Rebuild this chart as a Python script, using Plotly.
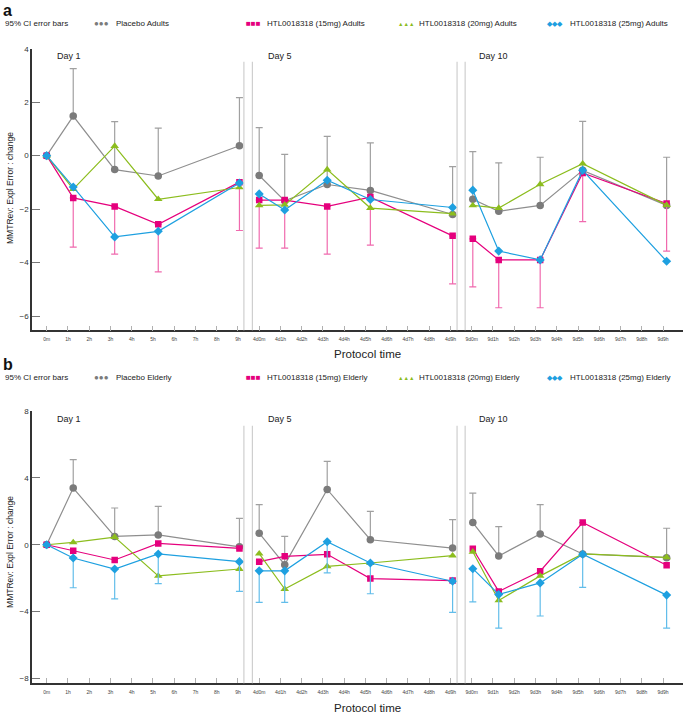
import plotly.graph_objects as go

# ---------------- data ----------------
tick_labels = (["0m"] + [f"{h}h" for h in range(1, 10)]
               + [f"4d{h}{'m' if h == 0 else 'h'}" for h in range(10)]
               + [f"9d{h}{'m' if h == 0 else 'h'}" for h in range(10)])

day_names = ["Day 1", "Day 5", "Day 10"]
# actual sampling times (hours after dosing) on each day
day1_hours = [0, 1.25, 3.2, 5.25, 9.07]
day5_hours = [0, 1.2, 3.2, 5.23, 9.1]
day10_hours = [0.05, 1.27, 3.22, 5.22, 9.17]

# Panel a: Adults
placebo_adults = [0, 1.48, -0.52, -0.76, 0.37, -0.74, -1.69, -1.08, -1.30, -2.20, -1.63, -2.08, -1.86, -0.55, -1.86]
placebo_adults_upper = [0, 3.26, 1.27, 1.03, 2.17, 1.05, 0.05, 0.72, 0.48, -0.41, 0.15, -0.27, -0.06, 1.28, -0.06]
mg15_adults = [0, -1.58, -1.90, -2.57, -0.99, -1.66, -1.66, -1.90, -1.55, -3.00, -3.11, -3.90, -3.90, -0.65, -1.79]
mg15_adults_lower = [0, -3.42, -3.68, -4.35, -2.80, -3.46, -3.46, -3.68, -3.35, -4.80, -4.91, -5.69, -5.69, -2.47, -3.57]
mg20_adults = [0, -1.25, 0.36, -1.63, -1.19, -1.86, -1.84, -0.52, -1.96, -2.17, -1.86, -1.96, -1.07, -0.30, -1.85]
mg25_adults = [0, -1.17, -3.04, -2.83, -1.02, -1.43, -2.03, -0.92, -1.64, -1.94, -1.29, -3.57, -3.90, -0.55, -3.95]

# Panel b: Elderly
placebo_elderly = [0, 3.39, 0.50, 0.59, -0.12, 0.69, -1.19, 3.31, 0.30, -0.20, 1.33, -0.67, 0.65, -0.55, -0.77]
placebo_elderly_upper = [0, 5.09, 2.20, 2.30, 1.58, 2.40, 0.50, 4.99, 2.00, 1.50, 3.09, 1.09, 2.40, 1.33, 0.99]
mg15_elderly = [0, -0.36, -0.91, 0.08, -0.22, -1.01, -0.69, -0.57, -2.02, -2.14, -0.24, -2.79, -1.58, 1.33, -1.23]
mg20_elderly = [0, 0.14, 0.46, -1.86, -1.45, -0.53, -2.65, -1.29, -1.09, -0.65, -0.42, -3.33, -1.86, -0.55, -0.75]
mg25_elderly = [0, -0.79, -1.45, -0.55, -1.01, -1.56, -1.56, 0.18, -1.09, -2.18, -1.43, -2.97, -2.28, -0.57, -3.01]
mg25_elderly_lower = [0, -2.57, -3.23, -2.32, -2.79, -3.45, -3.45, -1.68, -2.93, -4.04, -3.41, -4.99, -4.26, -2.55, -4.99]

# ---------------- styling ----------------
FONT = "Liberation Sans, Arial, sans-serif"
C_PLA, C_PLA_LINE, C_PLA_BAR = "#7b7b7b", "#8e8e8e", "#a0a0a0"
C_15, C_15_BAR = "#e5007d", "#f06aae"
C_20 = "#8cbd1e"
C_25, C_25_BAR = "#1ea0e0", "#62bdea"

W, H = 685, 720
def px_y(p):
    return 1 - p / H

day_offsets = [0, 10, 20]
hours_by_day = [day1_hours, day5_hours, day10_hours]

def with_breaks(vals):
    out = []
    for d in range(3):
        out += list(vals[d * 5:(d + 1) * 5])
        if d < 2:
            out.append(None)
    return out

x_all = []
for d in range(3):
    x_all += [day_offsets[d] + h for h in hours_by_day[d]]
    if d < 2:
        x_all.append(None)

fig = go.Figure()

def add_series(vals, color, line_color, symbol, size, xa, ya, up=None, low=None, bar_color=None):
    err = None
    if up is not None:
        err = dict(type="data", symmetric=False,
                   array=with_breaks([u - v for u, v in zip(up, vals)]),
                   arrayminus=with_breaks([0] * len(vals)),
                   color=bar_color, thickness=1.2, width=3.5)
    if low is not None:
        err = dict(type="data", symmetric=False,
                   array=with_breaks([0] * len(vals)),
                   arrayminus=with_breaks([v - l for l, v in zip(low, vals)]),
                   color=bar_color, thickness=1.2, width=3.5)
    fig.add_trace(go.Scatter(
        x=x_all, y=with_breaks(vals), mode="lines+markers",
        line=dict(color=line_color, width=1.2),
        marker=dict(symbol=symbol, size=size, color=color, line=dict(width=0)),
        error_y=err, xaxis=xa, yaxis=ya, showlegend=False, connectgaps=False,
        hoverinfo="x+y"))

# Panel a
add_series(placebo_adults, C_PLA, C_PLA_LINE, "circle", 7.5, "x", "y", up=placebo_adults_upper, bar_color=C_PLA_BAR)
add_series(mg15_adults, C_15, C_15, "square", 6.5, "x", "y", low=mg15_adults_lower, bar_color=C_15_BAR)
add_series(mg20_adults, C_20, C_20, "triangle-up", 7.5, "x", "y")
add_series(mg25_adults, C_25, C_25, "diamond", 7, "x", "y")
# Panel b
add_series(placebo_elderly, C_PLA, C_PLA_LINE, "circle", 7.5, "x2", "y2", up=placebo_elderly_upper, bar_color=C_PLA_BAR)
add_series(mg15_elderly, C_15, C_15, "square", 6.5, "x2", "y2")
add_series(mg20_elderly, C_20, C_20, "triangle-up", 7.5, "x2", "y2")
add_series(mg25_elderly, C_25, C_25, "diamond", 7, "x2", "y2", low=mg25_elderly_lower, bar_color=C_25_BAR)

x_dom = [32 / W, 683 / W]
x_common = dict(range=[-0.69, 29.94], tickmode="array", tickvals=list(range(30)), ticktext=tick_labels,
                showline=True, linecolor="#333333", linewidth=1.5, ticks="inside", ticklen=5,
                tickcolor="#b0b0b0", tickwidth=1, tickfont=dict(size=5, color="#444", family=FONT),
                showgrid=False, zeroline=False, domain=x_dom, ticklabelstandoff=3)
y_common = dict(showline=True, linecolor="#333333", linewidth=1.5, ticks="inside", ticklen=8,
                tickcolor="#777777", tickwidth=1, tickfont=dict(size=8, color="#333", family=FONT),
                showgrid=False, zeroline=False)

fig.update_layout(
    width=W, height=H, margin=dict(l=0, r=0, t=0, b=0),
    paper_bgcolor="white", plot_bgcolor="white",
    font=dict(family=FONT),
    xaxis=dict(**x_common, anchor="y"),
    yaxis=dict(**y_common, range=[-6.54, 4], tickvals=[4, 2, 0, -2, -4, -6],
               domain=[px_y(328.3), px_y(45)], anchor="x"),
    xaxis2=dict(**x_common, anchor="y2"),
    yaxis2=dict(**y_common, range=[-8.28, 8], tickvals=[8, 4, 0, -4, -8],
                domain=[px_y(683), px_y(409.3)], anchor="x2"),
)

# facet separators
shapes = []
for xr, top, bot in [("x", 58, 328), ("x2", 424, 683)]:
    for xv in [9.28, 9.68, 19.31, 19.69]:
        shapes.append(dict(type="line", xref=xr, yref="paper", x0=xv, x1=xv,
                           y0=px_y(bot), y1=px_y(top), line=dict(color="#cfcfcf", width=1.2)))
fig.update_layout(shapes=shapes)

ann = []
def text(x, y, s, size, color="#222", bold=False, xanchor="left", angle=0):
    ann.append(dict(x=x / W, y=px_y(y), xref="paper", yref="paper", text=f"<b>{s}</b>" if bold else s,
                    showarrow=False, xanchor=xanchor, yanchor="middle", textangle=angle,
                    font=dict(size=size, color=color, family=FONT)))

for base, grp, label in [(0, "Adults", "a"), (356, "Elderly", "b")]:
    text(1, base + 7, label, 16, "#111", bold=True)
    ly = base + 20
    text(3, ly, "95% CI error bars", 8)
    text(92, ly, "●●●", 8, C_PLA)
    text(114, ly, f"Placebo {grp}", 8)
    text(244, ly, "■■■", 8, C_15)
    text(265, ly, f"HTL0018318 (15mg) {grp}", 8)
    text(396, ly, "▲▲▲", 5.5, C_20)
    text(417, ly, f"HTL0018318 (20mg) {grp}", 8)
    text(545, ly, "◆◆◆", 6.5, C_25)
    text(568, ly, f"HTL0018318 (25mg) {grp}", 8)

for top, xt_y, mid in [(52, 352, 185), (417, 708, 551)]:
    text(55, top, day_names[0], 9)
    text(266, top, day_names[1], 9)
    text(477, top, day_names[2], 9)
    text(367, xt_y, "Protocol time", 11.5, "#222", xanchor="center")
    text(10, mid, "MMTRev: Expl Error : change", 8.5, "#222", xanchor="center", angle=-90)

fig.update_layout(annotations=ann)
fig.write_html("out.html", config={"displayModeBar": False},
               post_script="document.body.style.margin='0';document.body.style.overflow='hidden';")
